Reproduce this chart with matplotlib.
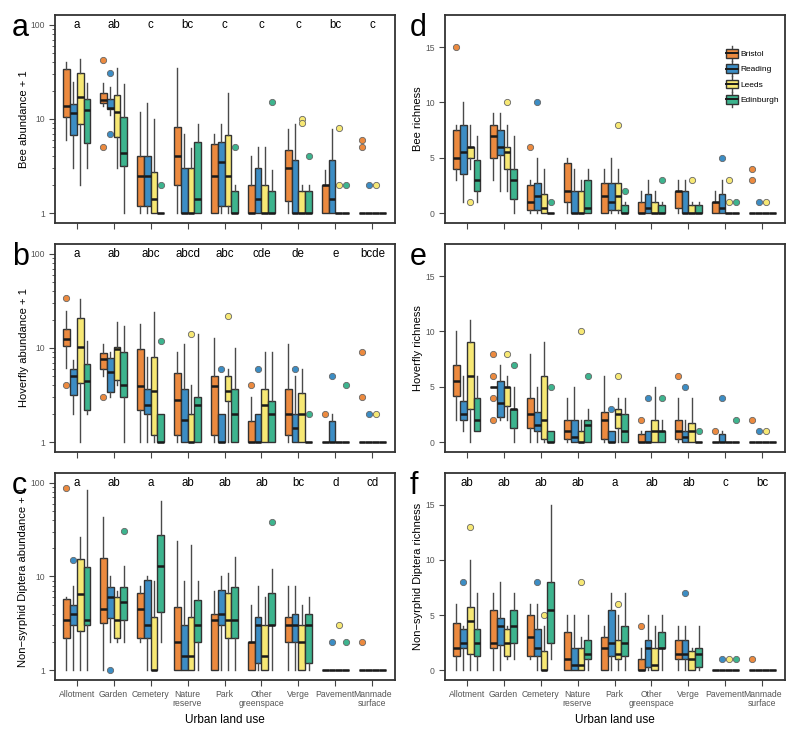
import matplotlib
matplotlib.use("Agg")
import matplotlib.pyplot as plt
from matplotlib.patches import Rectangle
from matplotlib.lines import Line2D
from matplotlib.legend_handler import HandlerBase
from matplotlib.ticker import FixedLocator, NullFormatter

plt.rcParams['font.family'] = ['Liberation Sans', 'DejaVu Sans']

CITIES = ["Bristol", "Reading", "Leeds", "Edinburgh"]
COLORS = ["#EC8A3F", "#3C8DC4", "#F7E874", "#3DB48E"]
LANDUSE = ["Allotment", "Garden", "Cemetery", "Nature\nreserve", "Park",
           "Other\ngreenspace", "Verge", "Pavement", "Manmade\nsurface"]

# ---- panel a: Bee abundance + 1 (rows: land use, cols: city) ----
A_LO = [[6, 3, 2, 3], [13.8, 11.1, 3, 1], [1, 1, 1, 1], [1, 1, 1, 1], [1, 1, 1, 1],
        [1, 1, 1, 1], [1, 1, 1, 1], [1, 1, 1, 1], [1, 1, 1, 1]]
A_Q1 = [[10.5, 6.7, 8.8, 5.6], [14.9, 12.9, 6.5, 3.2], [1.18, 1.18, 1, 1], [2, 1, 1, 1],
        [1, 1.18, 1.18, 1], [1, 1, 1, 1], [1.33, 1, 1, 1], [1, 1, 1, 1], [1, 1, 1, 1]]
A_MED = [[13.8, 11.5, 17, 12.5], [16, 13.1, 12, 4.4], [2.45, 2.45, 1.42, 1], [4, 1, 1, 1.42],
         [2.45, 3.45, 2.45, 1], [1, 1.42, 1, 1], [3, 1, 1, 1], [2, 1.42, 1, 1], [1, 1, 1, 1]]
A_Q3 = [[33.8, 14.4, 31.2, 16.4], [19.1, 16.2, 17.8, 10.5], [4, 4, 2.7, 1], [8.3, 3, 3, 5.7],
        [5.4, 5.7, 6.7, 1.7], [2, 3, 2, 1.7], [4.7, 3.7, 1.7, 1.7], [2, 3.7, 1, 1], [1, 1, 1, 1]]
A_HI = [[40.8, 25, 43.5, 24], [24, 21.8, 34.7, 23.6], [11.8, 14.7, 10, 1], [34.7, 6.9, 4.9, 8.9],
        [6.9, 8.9, 18.8, 2], [4, 5, 5, 2.9], [7.9, 8.9, 2, 2], [2.9, 7.9, 1, 1], [1, 1, 1, 1]]
A_FL = [[[], [], [], []], [[42, 5], [31, 7], [], []], [[], [], [], [2]], [[], [], [], []],
        [[], [], [], [5]], [[], [], [], [15]], [[], [], [10, 9], [4]], [[], [], [2, 8], [2]],
        [[6, 5], [2], [2], []]]
A_LET = ["a", "ab", "c", "bc", "c", "c", "c", "bc", "c"]

# ---- panel b: Hoverfly abundance + 1 ----
B_LO = [[6.2, 2, 1, 2], [5.0, 3, 4, 1], [1, 1, 1, 1], [1, 1, 1, 1], [1, 1, 1, 1],
        [1, 1, 1, 1], [1, 1, 1, 1], [1, 1, 1, 1], [1, 1, 1, 1]]
B_Q1 = [[10.5, 3.2, 4.2, 2.2], [6.0, 3.4, 4.6, 3], [2.2, 2, 1.19, 1], [1.19, 1, 1, 1],
        [1.19, 1, 2.75, 1], [1, 1, 1, 1], [1.19, 1, 1, 1], [1, 1, 1, 1], [1, 1, 1, 1]]
B_MED = [[12.6, 5, 10.3, 4.5], [7.6, 5.5, 9.8, 4], [3.9, 2.45, 3.5, 1], [2.8, 1.7, 1, 2.45],
         [3.9, 1, 3.5, 2], [1, 1, 2.45, 2], [2, 1.42, 2, 1], [1, 1, 1, 1], [1, 1, 1, 1]]
B_Q3 = [[15.8, 6, 20.7, 6.7], [8.8, 7.9, 10.2, 9.1], [9.8, 3.7, 8, 2], [5.4, 3.7, 2, 3],
        [5, 2, 5, 3.7], [1.67, 2, 3.7, 2.7], [3.7, 2, 3.35, 1], [1, 1.67, 1, 1], [1, 1, 1, 1]]
B_HI = [[24.8, 7.5, 33, 12], [11, 9.1, 18.8, 17], [18, 8, 24, 2], [9, 11, 4, 14],
        [12.9, 2, 6, 10], [3, 2, 9, 9], [11, 5, 6, 1], [1, 2, 1, 1], [1, 1, 1, 1]]
B_FL = [[[34, 4], [], [], []], [[3], [], [], []], [[], [], [], [12]], [[], [], [14], []],
        [[], [6], [22], []], [[4], [6], [], []], [[], [6], [], [2]], [[2], [5], [], [4]],
        [[9, 3], [2], [2], []]]
B_LET = ["a", "ab", "abc", "abcd", "abc", "cde", "de", "e", "bcde"]

# ---- panel c: Non-syrphid Diptera abundance + 1 ----
C_LO = [[1, 1, 1, 1], [1, 2, 2, 2], [2, 1, 1, 2], [1, 1, 1, 1], [1, 1, 1, 1],
        [1, 1, 1, 1], [1, 1, 1, 1], [1, 1, 1, 1], [1, 1, 1, 1]]
C_Q1 = [[2.2, 3, 2.6, 3], [3.2, 3.6, 2.2, 3.4], [2.2, 2.2, 1, 4.2], [1, 1, 1, 2],
        [1, 3, 2.2, 2.2], [1, 1.2, 1, 3], [2, 2, 1, 1.2], [1, 1, 1, 1], [1, 1, 1, 1]]
C_MED = [[3.45, 4, 6.5, 3.45], [4.5, 6.1, 3.45, 5.4], [4.5, 3, 1, 12.9], [2, 1.41, 1.41, 3],
         [3.45, 4, 3.45, 3.45], [2, 3, 1.41, 3], [3, 3, 2, 3], [1, 1, 1, 1], [1, 1, 1, 1]]
C_Q3 = [[5.7, 5, 15.2, 12.5], [15.7, 7.7, 6, 7.7], [6.7, 9.1, 3.7, 27.8], [4.7, 3, 3.7, 5.6],
        [4, 7.1, 6.7, 7.8], [2, 3.7, 3, 6.7], [3.7, 4, 3, 4], [1, 1, 1, 1], [1, 1, 1, 1]]
C_HI = [[6, 7.9, 26.7, 85], [43.5, 10, 7, 12.9], [7.9, 10, 8.9, 64], [24, 8.9, 21.8, 8.9],
        [7, 10, 10.9, 16], [5, 7.9, 6, 12], [7.9, 7.9, 5, 6], [1, 1, 1, 1], [1, 1, 1, 1]]
C_FL = [[[88], [15], [], []], [[], [1], [], [31]], [[], [], [], []], [[], [], [], []],
        [[], [], [], []], [[], [], [], [38]], [[], [], [], []], [[], [2], [3], [2]],
        [[2], [], [], []]]
C_LET = ["a", "ab", "a", "ab", "ab", "ab", "bc", "d", "cd"]

# ---- panel d: Bee richness ----
D_LO = [[3, 1, 4, 1], [3, 2, 2, 0], [0, 0, 0, 0], [0, 0, 0, 0], [0, 0, 0, 0],
        [0, 0, 0, 0], [0, 0, 0, 0], [0, 0, 0, 0], [0, 0, 0, 0]]
D_Q1 = [[4, 3.5, 5, 2], [5, 5.25, 4, 1.25], [0.25, 0.25, 0, 0], [1, 0, 0, 0],
        [0, 0.25, 0.25, 0], [0, 0, 0, 0], [0.5, 0, 0, 0], [0, 0, 0, 0], [0, 0, 0, 0]]
D_MED = [[5, 5.5, 6, 3], [7, 6, 5.5, 3], [1, 1.5, 0.5, 0], [2, 0, 0, 0.5],
         [1.5, 1, 1.5, 0], [0, 0.5, 0, 0], [2, 0, 0, 0], [1, 0.5, 0, 0], [0, 0, 0, 0]]
D_Q3 = [[7.5, 8, 6, 4.75], [8, 7.5, 6, 4], [2.5, 2.75, 1.75, 0], [4.5, 2, 2, 3],
        [2.75, 2.75, 2.75, 0.75], [1, 1.75, 1, 0.75], [2, 2, 0.75, 0.75], [1, 1.75, 0, 0],
        [0, 0, 0, 0]]
D_HI = [[8, 10, 8, 7], [9, 9, 8, 7], [3, 5, 4, 0], [5, 4, 3, 4], [4, 5, 4, 1],
        [2, 3, 2, 1], [3, 3, 1, 1], [2, 3, 0, 0], [0, 0, 0, 0]]
D_FL = [[[15], [], [1], []], [[], [], [10], []], [[6], [10], [], [1]], [[], [], [], []],
        [[], [], [8], [2]], [[], [], [], [3]], [[], [], [3], []], [[], [5], [3, 1], [1]],
        [[4, 3], [1], [1], []]]

# ---- panel e: Hoverfly richness ----
E_LO = [[2, 1, 0, 1], [5, 2, 2, 0], [0, 0, 0, 0], [0, 0, 0, 0], [0, 0, 0, 0],
        [0, 0, 0, 0], [0, 0, 0, 0], [0, 0, 0, 0], [0, 0, 0, 0]]
E_Q1 = [[4.2, 2, 3, 1], [5, 2.25, 3.25, 1.25], [1.25, 1, 0.25, 0], [0.25, 0, 0, 0],
        [0.25, 0, 1.25, 0], [0, 0, 0, 0], [0.25, 0, 0, 0], [0, 0, 0, 0], [0, 0, 0, 0]]
E_MED = [[5.5, 2.5, 6, 2], [5, 3.5, 5, 3], [2.5, 1.5, 2, 0], [1, 0.5, 0, 1.5],
         [2, 0, 2.5, 1], [0, 0, 1, 1], [1, 0.5, 1, 0], [0, 0, 0, 0], [0, 0, 0, 0]]
E_Q3 = [[7, 3.75, 9, 4], [5, 5.5, 5, 3], [4, 2.75, 6, 1], [2, 2, 1, 2], [2.75, 1, 3, 2.5],
        [0.75, 1, 2, 1], [2, 1, 1.75, 0], [0, 0.75, 0, 0], [0, 0, 0, 0]]
E_HI = [[10, 6, 11, 6], [5, 7, 6, 5], [8, 5, 9, 1], [4, 5, 2, 3], [6, 1, 4, 4],
        [1, 1, 5, 2], [4, 2, 4, 0], [0, 1, 0, 0], [0, 0, 0, 0]]
E_FL = [[[], [], [], []], [[8, 6, 4, 2], [], [8], [7]], [[], [], [], [5]], [[], [], [10], [6]],
        [[], [3], [6], []], [[2], [4], [], [4]], [[6], [5], [], [1]], [[1], [4], [], [2]],
        [[2], [1], [1], []]]

# ---- panel f: Non-syrphid Diptera richness ----
F_LO = [[0, 0, 0, 0], [0, 0, 1, 1], [1, 0, 0, 1], [0, 0, 0, 0], [0, 0, 0, 0],
        [0, 0, 0, 0], [0, 0, 0, 0], [0, 0, 0, 0], [0, 0, 0, 0]]
F_Q1 = [[1.25, 2, 1.5, 1.25], [2, 2.25, 1.25, 2.5], [1.25, 1.25, 0, 2.5], [0, 0, 0, 1],
        [0, 1.25, 1, 1.25], [0, 0.25, 0, 2], [1, 1, 0, 0.25], [0, 0, 0, 0], [0, 0, 0, 0]]
F_MED = [[2, 2.5, 4.5, 2.5], [2.5, 4, 2.5, 4], [3, 2, 0, 5.5], [1, 0.5, 0.5, 1.5],
         [2, 2.5, 1.5, 2.5], [0, 2, 0.5, 2], [1.5, 1.5, 1, 1.5], [0, 0, 0, 0], [0, 0, 0, 0]]
F_Q3 = [[4.25, 3.75, 5.75, 3.75], [5.5, 4.75, 3.75, 5.5], [5, 3.75, 1.75, 8], [3.5, 2, 2, 2.75],
        [3, 5.5, 2.75, 4], [1, 2.75, 2, 3.5], [2.75, 2.75, 1.75, 2], [0, 0, 0, 0], [0, 0, 0, 0]]
F_HI = [[6, 4, 10, 7], [7, 8, 4, 7], [6, 6, 4, 15], [5, 5, 3, 5], [4, 7, 5, 7],
        [2, 5, 4, 5], [4, 4, 2, 4], [0, 0, 0, 0], [0, 0, 0, 0]]
F_FL = [[[], [8], [13], []], [[], [], [], []], [[], [8], [5], []], [[], [], [8], []],
        [[], [], [6], []], [[4], [], [], []], [[], [7], [], []], [[], [1], [1], [1]],
        [[1], [], [], []]]
F_LET = ["ab", "ab", "ab", "ab", "a", "ab", "ab", "c", "bc"]

EDGE = "#333333"
WHISK = "#4a4a4a"
TICKC = "#555555"

fig = plt.figure(figsize=(8.0, 7.37), dpi=100)

def fx(px):
    return px / 800.0

def fy(py):
    return 1 - py / 737.0

AXW = 340
rows_px = [(15, 223), (244, 452), (473, 680)]
cols_px = [54.5, 444.5]

panels = [
    dict(d=(A_LO, A_Q1, A_MED, A_Q3, A_HI, A_FL), log=True, lab="Bee abundance + 1",
         let=A_LET, col=0, row=0, tag="a"),
    dict(d=(B_LO, B_Q1, B_MED, B_Q3, B_HI, B_FL), log=True, lab="Hoverfly abundance + 1",
         let=B_LET, col=0, row=1, tag="b"),
    dict(d=(C_LO, C_Q1, C_MED, C_Q3, C_HI, C_FL), log=True,
         lab="Non\u2212syrphid Diptera abundance + 1", let=C_LET, col=0, row=2, tag="c"),
    dict(d=(D_LO, D_Q1, D_MED, D_Q3, D_HI, D_FL), log=False, lab="Bee richness",
         let=None, col=1, row=0, tag="d"),
    dict(d=(E_LO, E_Q1, E_MED, E_Q3, E_HI, E_FL), log=False, lab="Hoverfly richness",
         let=None, col=1, row=1, tag="e"),
    dict(d=(F_LO, F_Q1, F_MED, F_Q3, F_HI, F_FL), log=False,
         lab="Non\u2212syrphid Diptera richness", let=F_LET, col=1, row=2, tag="f"),
]

OFFS = [-0.2775, -0.0925, 0.0925, 0.2775]
BW = 0.185

axes = {}
for p in panels:
    top, bot = rows_px[p["row"]]
    left = cols_px[p["col"]]
    ax = fig.add_axes([fx(left), fy(bot), AXW / 800.0, (bot - top) / 737.0])
    axes[p["tag"]] = ax
    lo, q1, med, q3, hi, fl = p["d"]
    for ci in range(4):
        stats = []
        pos = []
        for g in range(9):
            stats.append(dict(whislo=lo[g][ci], q1=q1[g][ci], med=med[g][ci],
                              q3=q3[g][ci], whishi=hi[g][ci], fliers=fl[g][ci]))
            pos.append(g + 1 + OFFS[ci])
        ax.bxp(stats, positions=pos, widths=BW, patch_artist=True, showcaps=False,
               boxprops=dict(facecolor=COLORS[ci], edgecolor=EDGE, linewidth=1.0),
               whiskerprops=dict(color=WHISK, linewidth=1.0),
               medianprops=dict(color="#1a1a1a", linewidth=1.8),
               flierprops=dict(marker="o", markersize=4.5, markerfacecolor=COLORS[ci],
                               markeredgecolor="#666666", markeredgewidth=0.6),
               manage_ticks=False)
    ax.set_xlim(0.4, 9.6)
    if p["log"]:
        ax.set_yscale("log")
        ax.set_ylim(0.783, 127.7)
        ax.yaxis.set_major_locator(FixedLocator([1, 10, 100]))
        ax.set_yticklabels(["1", "10", "100"])
        minors = [m * d for d in (1, 10) for m in range(2, 10)]
        ax.yaxis.set_minor_locator(FixedLocator(minors))
        ax.yaxis.set_minor_formatter(NullFormatter())
        ytxt = 100
    else:
        ax.set_ylim(-0.9, 17.9)
        ax.set_yticks([0, 5, 10, 15])
        ytxt = 17
    ax.set_xticks(range(1, 10))
    if p["row"] == 2:
        ax.set_xticklabels(LANDUSE, fontsize=6.2, color=TICKC, linespacing=1.05)
        ax.set_xlabel("Urban land use", fontsize=8.5, labelpad=4)
    else:
        ax.set_xticklabels([])
    ax.tick_params(axis="both", which="major", length=4, width=0.8, color="#444444",
                   labelsize=6.2, labelcolor=TICKC, pad=3)
    ax.tick_params(axis="y", which="minor", length=2.5, width=0.6, color="#444444")
    for s in ax.spines.values():
        s.set_linewidth(1.3)
        s.set_color("#333333")
    ax.set_ylabel(p["lab"], fontsize=8)
    if p["col"] == 0:
        xr = 29.0 if p["tag"] != "c" else 28.0
        ax.yaxis.set_label_coords((xr - left) / AXW, 0.5)
    else:
        ax.yaxis.set_label_coords((423.0 - left) / AXW, 0.5)
    if p["let"] is not None:
        for g, t in enumerate(p["let"]):
            ax.text(g + 1, ytxt, t, ha="center", va="center", fontsize=8.3)
    tx = 12 if p["col"] == 0 else 410
    fig.text(fx(tx), fy(top + 21), p["tag"], fontsize=22, va="baseline", ha="left")


class BoxHandler(HandlerBase):
    def create_artists(self, legend, orig_handle, xdescent, ydescent, width, height,
                       fontsize, trans):
        fc = orig_handle.get_facecolor()
        x0 = -xdescent
        y0 = -ydescent
        cx = x0 + width / 2
        wl = Line2D([cx, cx], [y0 - 2.5, y0 + height + 2.5], color=WHISK, lw=1.0,
                    transform=trans)
        r = Rectangle((x0, y0), width, height, facecolor=fc, edgecolor=EDGE, lw=1.0,
                      transform=trans)
        ml = Line2D([x0, x0 + width], [y0 + height / 2] * 2, color="#1a1a1a", lw=1.4,
                    transform=trans)
        return [wl, r, ml]


handles = [Rectangle((0, 0), 1, 1, facecolor=c) for c in COLORS]
axd = axes["d"]
axd.legend(handles, CITIES, handler_map={Rectangle: BoxHandler()}, loc="upper left",
           bbox_to_anchor=((726 - 444.5) / AXW, (223 - 49) / 208.0), frameon=False,
           fontsize=6, handlelength=1.45, handleheight=1.2, handletextpad=0.25,
           labelspacing=0.75, borderpad=0, borderaxespad=0)

fig.savefig("out.png", dpi=100)
